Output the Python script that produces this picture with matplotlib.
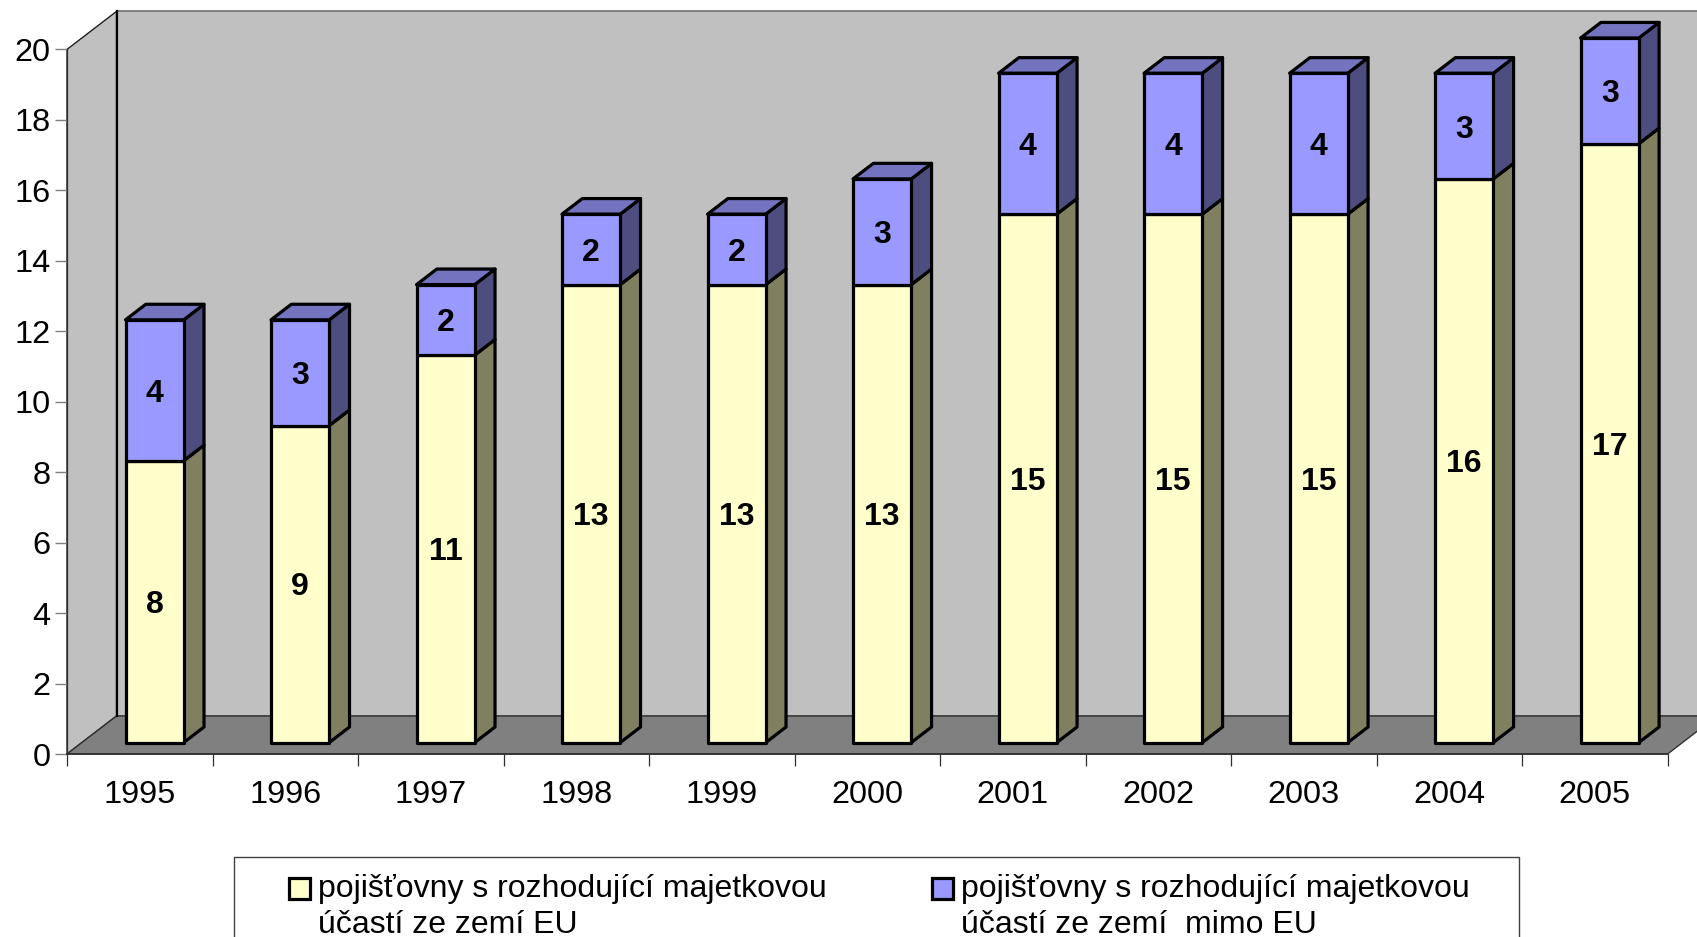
import matplotlib
matplotlib.use("Agg")
import matplotlib.pyplot as plt
from matplotlib.patches import Polygon, Rectangle, Patch
from matplotlib.legend_handler import HandlerPatch
import numpy as np

plt.rcParams['font.family'] = ['Liberation Sans', 'DejaVu Sans']

years = ['1995', '1996', '1997', '1998', '1999', '2000', '2001', '2002', '2003', '2004', '2005']
eu_values = [8, 9, 11, 13, 13, 13, 15, 15, 15, 16, 17]
non_eu_values = [4, 3, 2, 2, 2, 3, 4, 4, 4, 3, 3]
y_ticks = list(range(0, 21, 2))
legend_labels = ['pojišťovny s rozhodující majetkovou\núčastí ze zemí EU',
                 'pojišťovny s rozhodující majetkovou\núčastí ze zemí  mimo EU']

W, H = 1697, 937
X0, X1, Y0, Y20 = 67.0, 1667.5, 754.0, 49.5
fig = plt.figure(figsize=((W + 0.1) / 100, (H + 0.1) / 100), dpi=100, facecolor='white')
ax = fig.add_axes([X0 / W, 1 - Y0 / H, (X1 - X0) / W, (Y0 - Y20) / H], facecolor='none')
n = len(years)
ax.set_xlim(0, n)
ax.set_ylim(0, 20)

DX = 49.5 / ((X1 - X0) / n)
DY = 38.0 / ((Y0 - Y20) / 20)
BAR_W = 0.40
D_FRONT, D_BACK = 0.30, 0.71


def proj(x, y, d):
    return (x + d * DX, y + d * DY)


def poly(points, fc, ec='black', lw=2.3, z=1):
    ax.add_patch(Polygon(points, closed=True, facecolor=fc, edgecolor=ec, linewidth=lw,
                         joinstyle='round', clip_on=False, zorder=z))


# walls and floor
poly([proj(0, 0, 1), proj(n + 1, 0, 1), proj(n + 1, 20, 1), proj(0, 20, 1)], '#C0C0C0', '#707070', 1.2, 0.5)
poly([proj(0, 0, 0), proj(0, 20, 0), proj(0, 20, 1), proj(0, 0, 1)], '#C0C0C0', '#202020', 1.0, 0.6)
poly([proj(0, 0, 0), proj(n, 0, 0), proj(n, 0, 1), proj(n + 1, 0, 1), proj(0, 0, 1)], '#808080', '#303030', 1.0, 0.7)
ax.plot(*zip(proj(0, 0, 1), proj(0, 20, 1)), color='black', lw=1.6, zorder=0.8, clip_on=False)


def box(xc, lo, hi, front, side, top, z, show_top):
    l, r = xc - BAR_W / 2, xc + BAR_W / 2
    poly([proj(r, lo, D_FRONT), proj(r, lo, D_BACK), proj(r, hi, D_BACK), proj(r, hi, D_FRONT)], side, z=z)
    if show_top:
        poly([proj(l, hi, D_FRONT), proj(r, hi, D_FRONT), proj(r, hi, D_BACK), proj(l, hi, D_BACK)], top, z=z)
    poly([proj(l, lo, D_FRONT), proj(r, lo, D_FRONT), proj(r, hi, D_FRONT), proj(l, hi, D_FRONT)], front, z=z + 0.01)


for i, (a, b) in enumerate(zip(eu_values, non_eu_values)):
    xc = i + 0.5
    box(xc, 0, a, '#FFFFCC', '#808060', '#BFBF99', 1 + i * 0.1, False)
    box(xc, a, a + b, '#9999FF', '#4D4D80', '#7373BF', 1.02 + i * 0.1, True)
    for lo, v in ((0, a), (a, b)):
        ax.annotate(str(v), xy=proj(xc, lo + v / 2, D_FRONT), xytext=(0, -2.4), textcoords='offset points',
                    ha='center', va='center', fontsize=23, fontweight='bold',
                    color='black', zorder=5)

# axes
for s in ('top', 'right'):
    ax.spines[s].set_visible(False)
ax.spines['left'].set_color('#303030')
ax.spines['left'].set_linewidth(0.9)
ax.spines['bottom'].set_color('#303030')
ax.spines['bottom'].set_linewidth(1.2)
ax.set_yticks(y_ticks)
ax.tick_params(axis='y', length=8.3, width=1.0, color='#808080', pad=3.4, labelsize=23.4, labelcolor='black')
ax.set_xticks(np.arange(n + 1))
ax.set_xticklabels([])
ax.set_xticks(np.arange(n) + 0.5, labels=years, minor=True)
ax.tick_params(axis='x', which='major', length=8.6, width=0.9, color='#303030')
ax.tick_params(axis='x', which='minor', length=0, pad=19, labelsize=23.4, labelcolor='black')


def first_line_swatch(legend, orig_handle, xdescent, ydescent, width, height, fontsize):
    return Rectangle((-xdescent, -ydescent + 13.6), width, height)


# legend: frame runs past the bottom of the picture
fig.add_artist(Rectangle((234 / W, 1 - 1000 / H), (1519 - 234) / W, (1000 - 857) / H,
                         transform=fig.transFigure, facecolor='white', edgecolor='#404040',
                         linewidth=1.0, zorder=3))
handles = [Patch(facecolor='#FFFFCC', edgecolor='black', linewidth=2.3),
           Patch(facecolor='#9999FF', edgecolor='black', linewidth=2.3)]
leg = fig.legend(handles, legend_labels, ncol=2, loc='upper left',
                 bbox_to_anchor=(289 / W, 1 - 874 / H), bbox_transform=fig.transFigure,
                 frameon=False, fontsize=23, borderpad=0, borderaxespad=0,
                 handlelength=0.66, handleheight=0.66, handletextpad=0.25,
                 columnspacing=3.3, labelspacing=0,
                 handler_map={Patch: HandlerPatch(patch_func=first_line_swatch)})
leg.set_zorder(4)
for t in leg.get_texts():
    t.set_linespacing(1.27)

fig.savefig('out.png', dpi=100)
